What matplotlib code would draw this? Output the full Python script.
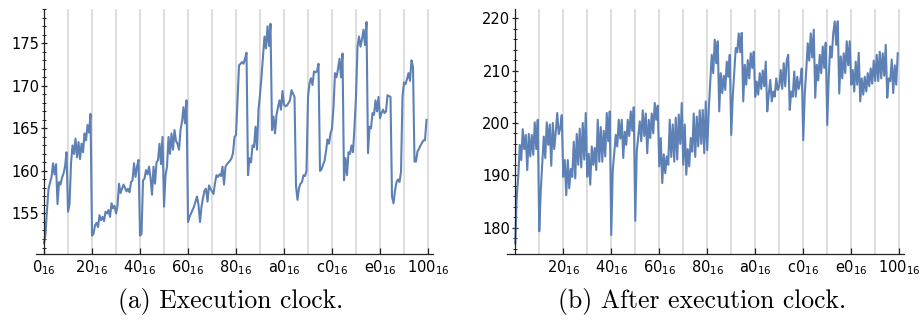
import matplotlib.pyplot as plt
import numpy as np
from matplotlib.ticker import MultipleLocator

# execution clock, one value per index 0x00..0xff (16 per row)
exec_clock = [
    151.5, 152.6, 155.5, 157.9, 158.6, 159.3, 160.9, 159.6, 160.8, 156.1, 158.7, 158.4, 159.2, 159.7, 160.5, 162.2,
    155.2, 156.1, 160.9, 163.0, 162.0, 163.8, 161.6, 163.4, 161.4, 163.2, 162.2, 164.4, 163.6, 165.4, 164.5, 166.7,
    152.4, 152.6, 153.6, 153.9, 153.4, 154.8, 154.2, 154.6, 154.1, 155.2, 155.0, 155.4, 154.6, 156.2, 155.6, 155.9,
    155.0, 155.9, 158.5, 157.4, 157.9, 158.4, 158.0, 157.6, 157.9, 157.5, 158.7, 158.9, 160.9, 159.3, 160.5, 161.3,
    152.4, 152.6, 158.9, 159.1, 160.1, 159.6, 160.5, 159.2, 157.2, 160.5, 158.5, 161.0, 161.3, 163.2, 160.8, 164.0,
    155.8, 159.5, 160.5, 164.0, 162.0, 164.4, 162.5, 164.8, 163.5, 163.2, 162.5, 164.8, 165.8, 167.5, 165.6, 168.3,
    154.0, 154.6, 155.0, 155.4, 155.8, 156.4, 157.0, 156.0, 154.0, 155.8, 156.8, 157.7, 157.9, 156.4, 158.3, 157.9,
    157.6, 157.3, 158.6, 159.5, 159.3, 159.6, 159.4, 160.5, 158.4, 160.5, 160.8, 161.0, 161.2, 161.5, 162.1, 164.0,
    164.2, 168.3, 172.4, 172.6, 172.8, 172.6, 173.2, 173.9, 159.5, 161.5, 161.0, 163.0, 162.8, 165.2, 162.5, 167.2,
    169.0, 171.1, 173.5, 175.8, 174.4, 177.0, 174.7, 177.3, 164.8, 166.4, 164.4, 166.6, 167.5, 168.3, 167.2, 169.4,
    167.8, 167.6, 167.7, 168.0, 168.3, 169.5, 169.1, 168.7, 158.2, 156.6, 158.0, 158.5, 158.7, 159.5, 159.4, 160.0,
    168.7, 170.3, 170.9, 170.1, 171.7, 171.6, 171.7, 172.6, 160.0, 160.2, 160.7, 161.2, 162.3, 163.7, 163.2, 164.4,
    165.0, 167.5, 171.5, 171.0, 172.0, 173.2, 171.0, 173.8, 158.9, 161.5, 159.5, 162.2, 162.0, 163.0, 162.2, 165.2,
    168.7, 174.6, 175.8, 174.6, 175.5, 176.6, 174.8, 177.5, 162.1, 165.2, 165.0, 166.8, 166.6, 168.3, 167.0, 168.7,
    166.2, 166.8, 167.2, 166.8, 167.0, 168.9, 168.8, 168.7, 157.0, 156.2, 157.7, 158.7, 159.0, 158.7, 159.9, 168.7,
    170.4, 170.2, 170.8, 171.5, 170.6, 173.0, 172.2, 161.1, 161.1, 162.3, 162.6, 163.0, 163.3, 163.6, 163.6, 166.0,
]

# after execution clock
after_clock = [
    177.0, 186.0, 189.7, 195.8, 192.9, 198.8, 195.0, 197.7, 191.0, 197.9, 193.6, 197.7, 193.9, 200.1, 195.0, 200.6,
    179.3, 187.0, 192.3, 197.4, 193.3, 200.1, 195.8, 199.7, 191.8, 200.0, 195.0, 198.3, 201.9, 197.9, 199.0, 201.5,
    189.7, 192.9, 186.2, 192.9, 187.5, 191.2, 189.7, 196.4, 189.4, 197.9, 192.0, 198.9, 191.5, 200.0, 193.0, 201.9,
    189.7, 194.1, 188.2, 195.5, 192.0, 195.2, 191.0, 200.6, 192.6, 199.2, 192.6, 198.5, 193.6, 201.9, 196.5, 202.2,
    178.6, 191.0, 194.2, 197.7, 195.5, 200.6, 197.0, 200.6, 193.3, 198.3, 195.8, 200.6, 197.5, 202.2, 198.5, 203.0,
    181.3, 194.5, 197.5, 200.3, 196.5, 202.4, 197.5, 201.8, 194.2, 200.6, 197.1, 201.8, 198.0, 203.8, 200.6, 203.3,
    191.7, 197.1, 188.5, 194.0, 190.4, 193.6, 192.0, 200.6, 193.5, 199.7, 192.6, 201.0, 193.0, 201.6, 196.0, 203.8,
    192.0, 199.7, 190.1, 195.0, 191.7, 197.1, 194.5, 201.8, 193.5, 201.2, 195.5, 202.4, 196.0, 202.5, 194.2, 204.1,
    194.8, 202.5, 207.9, 213.0, 209.5, 215.9, 211.4, 215.6, 202.2, 209.5, 205.7, 209.0, 206.3, 211.7, 208.8, 213.0,
    197.7, 205.0, 209.5, 214.3, 213.5, 217.1, 213.5, 217.2, 204.1, 211.1, 207.3, 212.0, 208.5, 213.3, 210.5, 213.6,
    205.0, 207.9, 205.4, 209.5, 206.5, 210.0, 207.0, 211.7, 202.2, 205.5, 208.2, 204.1, 206.0, 205.0, 208.5, 206.3,
    207.0, 210.1, 206.5, 211.4, 207.0, 212.0, 213.0, 202.5, 206.0, 205.0, 209.8, 205.0, 208.8, 206.5, 208.0, 210.4,
    196.7, 205.5, 210.0, 215.2, 211.9, 217.1, 212.5, 217.8, 204.8, 211.1, 208.1, 213.0, 209.5, 214.6, 210.5, 215.3,
    199.6, 208.8, 214.6, 212.5, 217.1, 219.4, 214.9, 219.4, 205.6, 212.7, 208.5, 213.3, 209.5, 215.6, 211.0, 215.6,
    207.3, 210.1, 206.0, 211.7, 207.3, 213.4, 204.1, 208.5, 205.4, 208.8, 206.0, 209.5, 207.0, 210.4, 207.5, 211.9,
    208.0, 213.0, 208.0, 213.6, 208.5, 213.3, 209.0, 214.9, 204.8, 208.5, 208.0, 212.1, 205.7, 211.0, 207.3, 213.3,
]

captions = ['(a) Execution clock.', '(b) After execution clock.']
ylims = [(150.2, 179.0), (174.9, 221.7)]
ymajor = [5, 10]
yminor = [1, 2]

x = np.arange(len(exec_clock))
line_color = '#5e81b5'
grid_color = '#d4d4d4'

fig = plt.figure(figsize=(9.22, 3.24), dpi=100)
ax1 = fig.add_axes([0.0388, 0.2151, 0.4311, 0.7562])
ax2 = fig.add_axes([0.5499, 0.2151, 0.4311, 0.7562])


def hexlabel(v):
    return r'$\mathregular{%x_{16}}$' % v


for k, (ax, y) in enumerate(zip([ax1, ax2], [exec_clock, after_clock])):
    for g in range(16, 257, 16):
        ax.axvline(g, color=grid_color, lw=1.1, zorder=0)
    ax.plot(x, y, color=line_color, lw=1.5, zorder=2)
    ax.set_xlim(-5.5, 259.5)
    ax.set_ylim(*ylims[k])

    ax.spines['top'].set_visible(False)
    ax.spines['right'].set_visible(False)
    ax.spines['left'].set_position(('data', 0))
    for s in ['left', 'bottom']:
        ax.spines[s].set_linewidth(0.9)
        ax.spines[s].set_color('#222222')

    xt = list(range(0, 257, 32)) if k == 0 else list(range(32, 257, 32))
    ax.set_xticks(xt)
    ax.set_xticklabels([hexlabel(v) for v in xt])
    ax.tick_params(axis='x', direction='in', length=4.5, width=0.9,
                   labelsize=10.5, pad=3, color='#222222')

    ax.yaxis.set_major_locator(MultipleLocator(ymajor[k]))
    ax.yaxis.set_minor_locator(MultipleLocator(yminor[k]))
    ax.tick_params(axis='y', which='major', direction='inout', length=4,
                   width=0.9, labelsize=10.5, pad=1.5, color='#222222')
    ax.tick_params(axis='y', which='minor', direction='inout', length=2.2,
                   width=0.7, color='#222222')

    fig.text((ax.get_position().x0 + ax.get_position().x1) / 2 - 0.004, 0.068,
             captions[k], ha='center', va='center', fontsize=18.5,
             family='cmr10')

fig.savefig('out.png', dpi=100)
